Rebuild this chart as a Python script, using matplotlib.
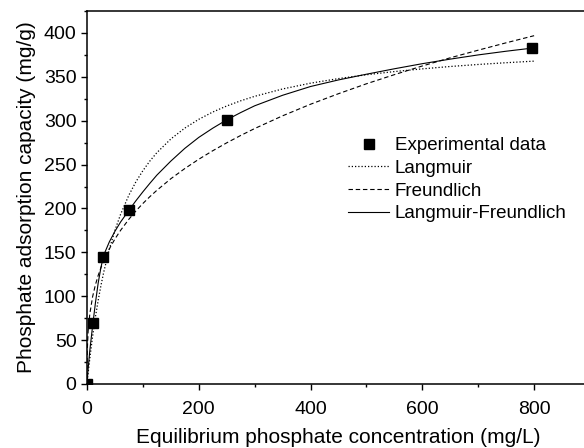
import matplotlib
matplotlib.use("Agg")
import matplotlib.pyplot as plt
from matplotlib.ticker import MultipleLocator

plt.rcParams['font.family'] = ['Liberation Sans', 'DejaVu Sans']

# experimental points
ce_exp = [0, 10.7, 28.6, 75, 251, 797]
qe_exp = [0, 70, 145, 198, 301, 383]

# model curves
ce_fit = [0, 0.5, 2, 5, 10, 15, 20, 25, 30, 40, 50, 60, 75, 87.5, 100, 112.5,
          125, 150, 175, 200, 225, 250, 275, 300, 350, 400, 450, 500, 550,
          600, 650, 700, 750, 800]
q_langmuir = [0, 3.1, 12.2, 29.1, 54.2, 76.1, 95.3, 112.4, 127.7, 153.7, 175.2,
              193.2, 215.3, 230.4, 243.1, 254.1, 263.6, 279.2, 291.6, 301.6,
              309.9, 316.8, 322.7, 327.8, 336.2, 342.8, 348.0, 352.4, 356.0,
              359.1, 361.8, 364.1, 366.1, 367.9]
q_freundlich = [0, 38.5, 59.8, 79.8, 99.4, 112.9, 123.7, 132.7, 140.6, 154.0,
                165.3, 175.0, 187.8, 197.2, 205.7, 213.5, 220.7, 233.9, 245.5,
                256.1, 265.8, 274.8, 283.2, 291.1, 305.6, 318.8, 330.8, 342.1,
                352.5, 362.4, 371.7, 380.4, 388.8, 396.9]
q_lf = [0, 5, 17, 38, 66, 92, 115, 133, 147, 162, 174, 184.5, 198, 208.8, 219,
        228.7, 238, 254, 268.5, 281, 291.5, 301, 309.3, 317, 329, 339, 346.5,
        353, 359.2, 365, 370.2, 375, 379.2, 383]

fig = plt.figure(figsize=(5.84, 4.48), dpi=100)
ax = fig.add_axes([87/584, 1 - 384/448, (590 - 87)/584, (384 - 10.5)/448])

ax.plot(ce_exp, qe_exp, 'ks', ms=7.5, label='Experimental data', zorder=5)
ax.plot(ce_fit, q_langmuir, color='k', ls=(0, (1, 1.6)), lw=0.9, label='Langmuir')
ax.plot(ce_fit, q_freundlich, color='k', ls=(0, (4, 2.5)), lw=0.8, label='Freundlich')
ax.plot(ce_fit, q_lf, color='k', ls='-', lw=0.8, label='Langmuir-Freundlich')

ax.set_xlim(0, 900)
ax.set_ylim(0, 425.6)
ax.xaxis.set_major_locator(MultipleLocator(200))
ax.xaxis.set_minor_locator(MultipleLocator(100))
ax.yaxis.set_major_locator(MultipleLocator(50))
ax.yaxis.set_minor_locator(MultipleLocator(25))
ax.tick_params(which='major', direction='out', length=4, width=1, labelsize=14)
ax.tick_params(which='minor', direction='out', length=2.5, width=1)
ax.tick_params(axis='x', which='major', pad=8.5)
ax.tick_params(axis='y', which='major', pad=3.5)
for s in ax.spines.values():
    s.set_linewidth(1.1)

ax.set_xlabel('Equilibrium phosphate concentration (mg/L)', fontsize=15, labelpad=7)
ax.set_ylabel('Phosphate adsorption capacity (mg/g)', fontsize=15, labelpad=5.5)

ax.legend(loc='upper left', bbox_to_anchor=((348 - 87)/503, (384 - 137)/373.5),
          frameon=False, fontsize=13.5, handlelength=2.2, handletextpad=0.3,
          labelspacing=0.3, borderpad=0, borderaxespad=0)

fig.savefig('out.png', dpi=100)
